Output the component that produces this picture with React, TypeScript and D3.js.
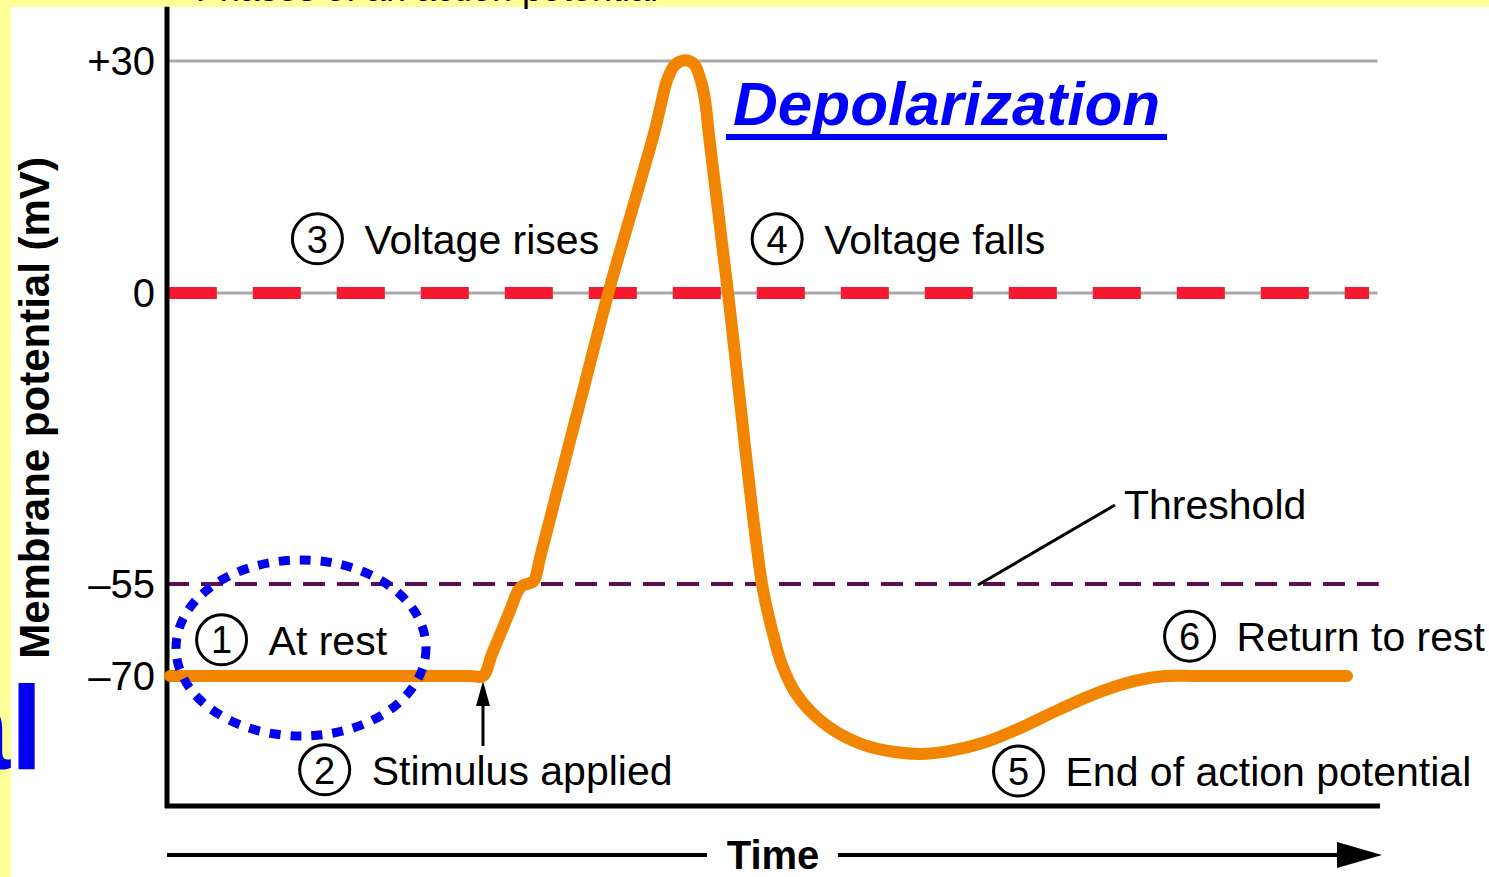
import React from "react";
import * as d3 from "d3";

// ---- data ----
const timeValues = [0.25, 24.98, 26.05, 26.79, 27.62, 28.36, 28.94, 29.35, 29.84, 30.26, 30.75, 32.4, 34.46, 36.52, 38.58, 40.23, 40.72, 41.22, 41.88, 42.7, 43.44, 44.0, 44.35, 44.68, 46.25, 49.05, 49.88, 50.7, 51.77, 53.17, 55.07, 57.54, 60.02, 62.08, 64.55, 67.44, 70.32, 73.62, 76.92, 79.8, 82.27, 85.16, 97.28];
const mvValues = [-70, -70, -70, -66.4, -62.5, -58.9, -56.1, -55.2, -54.9, -54.4, -50.1, -35.3, -17.0, 0.8, 12.0, 21.1, 24.4, 27.5, 29.5, 30.1, 29.6, 27.5, 25.0, 20.4, 0, -55, -62.5, -68.2, -72.6, -76.0, -79.0, -81.3, -82.4, -82.7, -82.2, -80.8, -78.5, -75.4, -72.6, -70.8, -70, -70, -70];

const tickValues = [30, 0, -55, -70];
const tickLabels = ["+30", "0", "\u201355", "\u201370"];
const gridValues = [30, 0];
const thresholdValue = -55;
const zeroValue = 0;

type Note = { num: string; label: string; t: number; v: number };
const notes: Note[] = [
  { num: "1", label: "At rest", t: 4.5, v: -64.1 },
  { num: "2", label: "Stimulus applied", t: 13.0, v: -85.3 },
  { num: "3", label: "Voltage rises", t: 12.4, v: 7 },
  { num: "4", label: "Voltage falls", t: 50.3, v: 7 },
  { num: "5", label: "End of action potential", t: 70.2, v: -85.5 },
  { num: "6", label: "Return to rest", t: 84.3, v: -63.5 },
];

const W = 1489;
const H = 877;
const FONT = "'Liberation Sans', Arial, Helvetica, sans-serif";

export default function App() {
  const x = d3.scaleLinear().domain([0, 100]).range([167, 1380]);
  const y = d3.scaleLinear().domain([-70, -55, 0, 30]).range([676, 584, 293, 61]);
  const yBottom = -91.2;
  const yTop = 37;

  const pts: [number, number][] = timeValues.map((t, i) => [x(t), y(mvValues[i])]);
  const line = d3.line().curve(d3.curveCatmullRom.alpha(0.5))(pts) as string;

  const stimX = x(timeValues[2]);

  return (
    <svg
      width={W}
      height={H}
      style={{ position: "fixed", left: 0, top: 0, display: "block" }}
      fontFamily={FONT}
    >
      <rect x={0} y={0} width={W} height={H} fill="#FFFF99" />
      <rect x={11} y={7} width={W - 11} height={H - 7} fill="#FFFFFF" />

      {/* clipped title text at top */}
      <text x={512} y={1} fontSize={36} textAnchor="end" fill="#000">Phases of an action</text>
      <text x={522} y={1} fontSize={36} fill="#000">potential</text>

      {/* big blue clipped text at left */}
      <text x={43} y={769} fontSize={118} fontWeight="bold" textAnchor="end" fill="#0000EE">Potential</text>

      {/* gray gridlines */}
      {gridValues.map((g) => (
        <line key={g} x1={x(0)} x2={x(99.8)} y1={y(g)} y2={y(g)} stroke="#A9A9AE" strokeWidth={3} />
      ))}

      {/* red dashed zero line */}
      <line x1={x(0.15)} x2={x(99.1)} y1={y(zeroValue)} y2={y(zeroValue)} stroke="#F5182E" strokeWidth={12} strokeDasharray="48 36" />

      {/* threshold dashed line */}
      <line x1={x(0)} x2={x(99.9)} y1={y(thresholdValue)} y2={y(thresholdValue)} stroke="#5A1050" strokeWidth={4} strokeDasharray="22 12" />

      {/* threshold label & leader */}
      <line x1={978} y1={585} x2={1115} y2={505} stroke="#000" strokeWidth={3} />
      <text x={1124} y={519} fontSize={41} fill="#000">Threshold</text>

      {/* axes */}
      <line x1={x(0)} x2={x(0)} y1={y(yTop)} y2={y(yBottom) + 2} stroke="#000" strokeWidth={5} />
      <line x1={x(0) - 2} x2={x(100)} y1={y(yBottom)} y2={y(yBottom)} stroke="#000" strokeWidth={5} />

      {/* tick labels */}
      {tickValues.map((v, i) => (
        <text key={v} x={155} y={y(v)} dy="0.36em" fontSize={40} textAnchor="end" fill="#000">
          {tickLabels[i]}
        </text>
      ))}

      {/* y axis title */}
      <text
        transform="translate(49,408) rotate(-90)"
        fontSize={42}
        fontWeight="bold"
        textAnchor="middle"
        fill="#000"
      >
        Membrane potential (mV)
      </text>

      {/* time arrow */}
      <line x1={x(0)} x2={707} y1={855} y2={855} stroke="#000" strokeWidth={4} />
      <line x1={838} x2={1340} y1={855} y2={855} stroke="#000" strokeWidth={4} />
      <path d={`M1337,842 L1382,855 L1337,868 Z`} fill="#000" />
      <text x={773} y={869} fontSize={40} fontWeight="bold" textAnchor="middle" fill="#000">Time</text>

      {/* stimulus arrow */}
      <line x1={stimX} x2={stimX} y1={746} y2={695} stroke="#000" strokeWidth={3} />
      <path d={`M${stimX - 7},706 L${stimX},681 L${stimX + 7},706 Z`} fill="#000" />

      {/* action potential curve */}
      <path d={line} fill="none" stroke="#F28500" strokeWidth={12} strokeLinecap="round" strokeLinejoin="round" />

      {/* annotations */}
      {notes.map((n) => {
        const cx = x(n.t);
        const cy = y(n.v);
        return (
          <g key={n.num}>
            <circle cx={cx} cy={cy} r={25} fill="none" stroke="#000" strokeWidth={3} />
            <text x={cx} y={cy} dy="0.36em" fontSize={38} textAnchor="middle" fill="#000">{n.num}</text>
            <text x={cx + 47} y={cy} dy="0.36em" fontSize={41} fill="#000">{n.label}</text>
          </g>
        );
      })}

      {/* dotted blue ellipse */}
      <ellipse cx={301} cy={648} rx={125} ry={88} fill="none" stroke="#0000EE" strokeWidth={9} strokeDasharray="11 10" />

      {/* Depolarization */}
      <text x={733} y={125} fontSize={62} fontWeight="bold" fontStyle="italic" fill="#0000FF">Depolarization</text>
      <line x1={726} x2={1167} y1={137} y2={137} stroke="#0000FF" strokeWidth={6} />
    </svg>
  );
}
